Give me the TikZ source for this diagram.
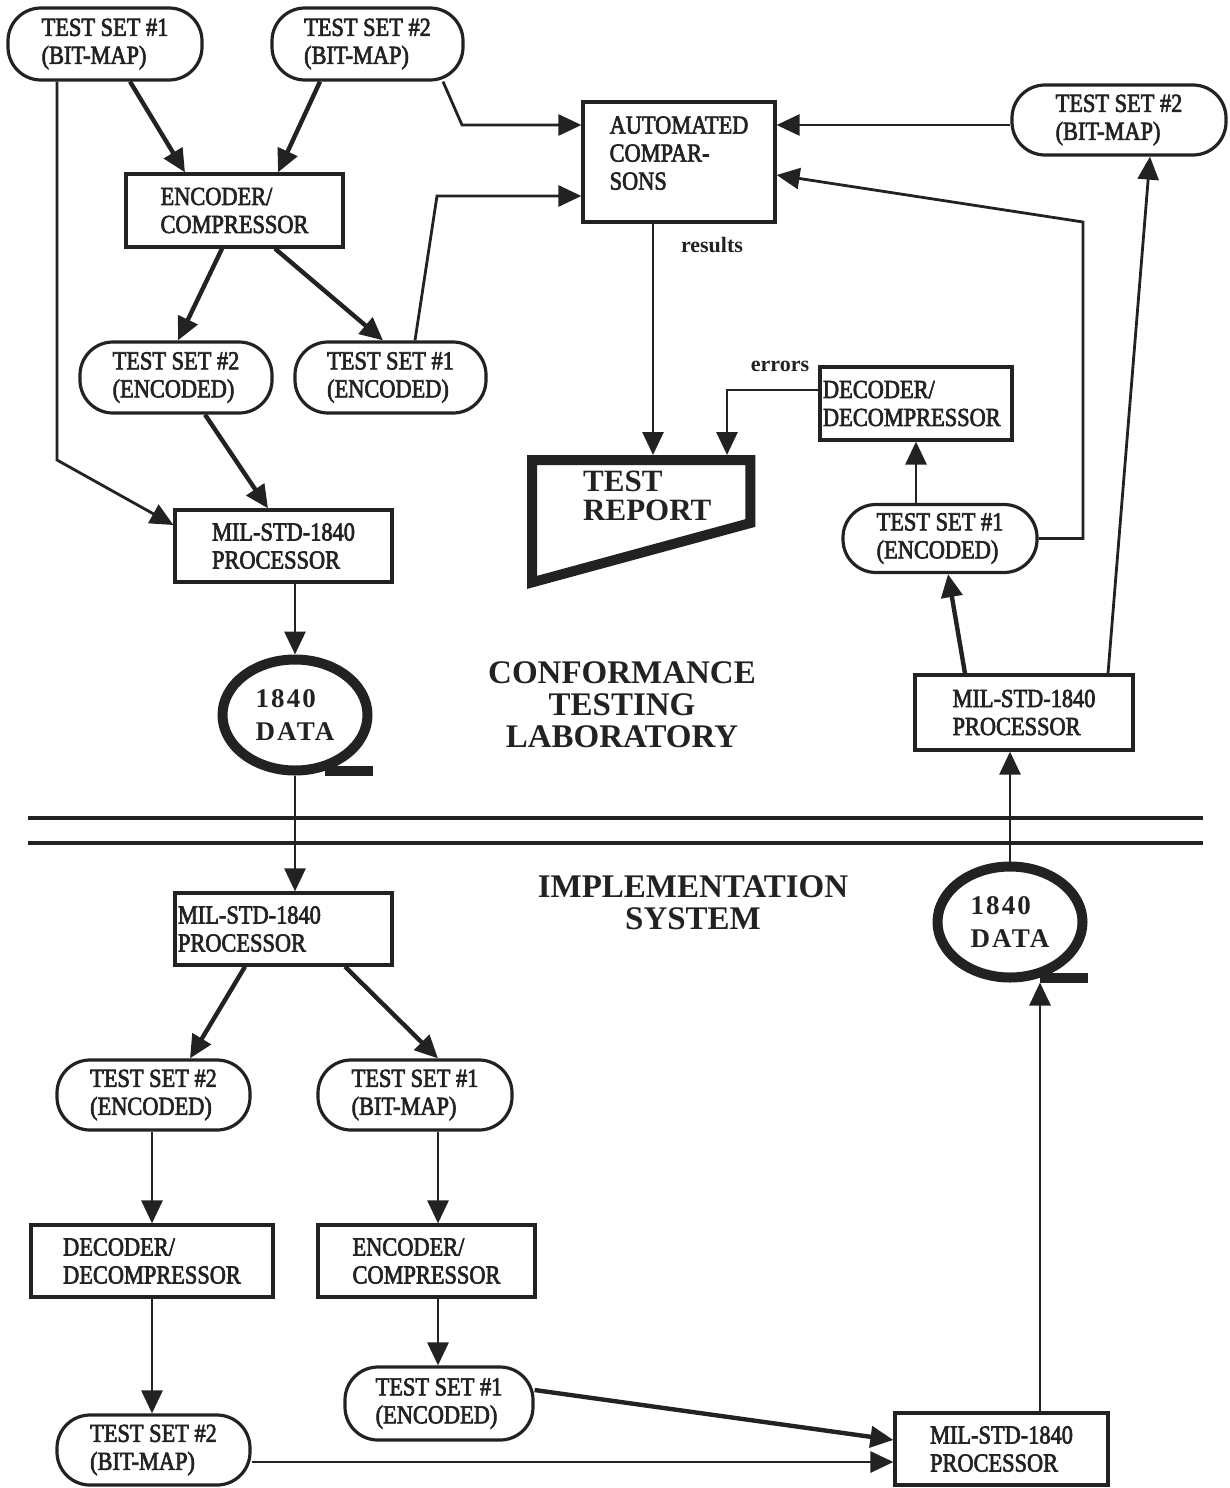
\documentclass[tikz,border=0pt]{standalone}
\usepackage{fontspec}
\setmainfont{Liberation Serif}
\newfontfamily\nodeface[FakeStretch=0.86,FakeBold=2.5]{Liberation Serif}
\newfontfamily\titleface{Liberation Serif}
\newfontfamily\tapeface[LetterSpace=8]{Liberation Serif}
\newcommand\nodefont{\nodeface\fontsize{26}{28}\selectfont}
\newcommand\titlefont{\titleface\bfseries\fontsize{33}{32}\selectfont}
\newcommand\tapefont{\tapeface\bfseries\fontsize{27}{33}\selectfont}
\newcommand\reportfont{\titleface\bfseries\fontsize{31}{29}\selectfont}
\newcommand\labelfont{\titleface\bfseries\fontsize{22}{24}\selectfont}
\usetikzlibrary{arrows.meta,shapes.geometric,calc}
\definecolor{ink}{HTML}{222222}
\begin{document}
\begin{tikzpicture}[x=1pt,y=-1pt,
  box/.style={draw=ink, line width=3.2pt, rectangle, align=left, inner sep=0pt, font=\nodefont, text=ink},
  rbox/.style={box, rounded corners=33pt},
  con/.style={draw=ink, line width=2.8pt, line join=miter, -{Triangle[length=23pt,width=21pt]}},
  heavy/.style={con, line width=4.4pt},
  tape/.style={ellipse, draw=ink, line width=10pt, minimum width=145pt, minimum height=111pt, inner sep=0pt, align=left, font=\tapefont, text=ink},
  tail/.style={draw=ink, line width=10pt},
  divider/.style={draw=ink, line width=3.8pt},
  lbl/.style={font=\labelfont, text=ink, inner sep=0pt},
  title/.style={font=\titlefont, text=ink, align=center, inner sep=0pt}]
\useasboundingbox (0,0) rectangle (1230,1488);

% ---------- conformance testing laboratory ----------
\node[rbox, minimum width=194pt, minimum height=72pt] (tsA) at (105,44) {TEST SET \#1\\(BIT-MAP)};
\node[rbox, minimum width=191pt, minimum height=72pt] (tsB) at (367.5,44) {TEST SET \#2\\(BIT-MAP)};
\node[box, minimum width=217pt, minimum height=73pt] (enc) at (234.5,210.5) {ENCODER/\\COMPRESSOR};
\node[rbox, minimum width=192pt, minimum height=71pt] (tsC) at (176,377.5) {TEST SET \#2\\(ENCODED)};
\node[rbox, minimum width=191pt, minimum height=71pt] (tsD) at (390.5,377.5) {TEST SET \#1\\(ENCODED)};
\node[box, minimum width=217pt, minimum height=72pt] (milA) at (283.5,546) {MIL-STD-1840\\PROCESSOR};
\node[tape] (tapeA) at (295,715) {1840\\DATA};
\node[box, minimum width=192pt, minimum height=120pt] (auto) at (679,162) {AUTOMATED\\COMPAR-\\SONS\\[-10pt]};
\node[rbox, minimum width=214pt, minimum height=70pt] (tsE) at (1119,120) {TEST SET \#2\\(BIT-MAP)};
\node[box, text width=186pt, inner xsep=3pt, minimum height=73pt] (decA) at (916,403.5) {DECODER/\\DECOMPRESSOR};
\node[rbox, minimum width=194pt, minimum height=68pt] (tsF) at (940,538.5) {TEST SET \#1\\(ENCODED)};
\node[box, minimum width=218pt, minimum height=75pt] (milB) at (1024,712.5) {MIL-STD-1840\\PROCESSOR};
\node[tape] (tapeB) at (1010,922) {1840\\DATA};

\node[minimum width=228pt, minimum height=132pt, inner sep=0pt, anchor=north west] (rep) at (527,455) {};
\draw[ink, line width=10pt, line join=miter] ($(rep.north west)+(5,5)$) -- ($(rep.north east)+(-5,5)$) -- ($(rep.north east)+(-5,68)$) -- ($(rep.south west)+(5,-5)$) -- cycle;
\node[anchor=north west, align=left, font=\reportfont, text=ink, inner sep=0pt] (reptxt) at (583,471) {TEST\\REPORT};

\node[lbl] (res) at (712,245) {results};
\node[lbl] (err) at (780,366) {errors};
\node[title] (lab) at (622,705) {CONFORMANCE\\TESTING\\LABORATORY};

% ---------- implementation system ----------
\node[title] (impl) at (693,903) {IMPLEMENTATION\\SYSTEM};
\node[box, text width=211pt, inner xsep=3pt, minimum height=72pt] (milC) at (283.5,929) {MIL-STD-1840\\PROCESSOR};
\node[rbox, minimum width=193pt, minimum height=70pt] (tsG) at (153.5,1095) {TEST SET \#2\\(ENCODED)};
\node[rbox, minimum width=194pt, minimum height=70pt] (tsH) at (415,1095) {TEST SET \#1\\(BIT-MAP)};
\node[box, minimum width=242pt, minimum height=72pt] (decB) at (152,1261) {DECODER/\\DECOMPRESSOR};
\node[box, minimum width=217pt, minimum height=72pt] (encB) at (426.5,1261) {ENCODER/\\COMPRESSOR};
\node[rbox, minimum width=188pt, minimum height=73pt] (tsI) at (439,1403.5) {TEST SET \#1\\(ENCODED)};
\node[rbox, minimum width=193pt, minimum height=70pt] (tsJ) at (153.5,1450) {TEST SET \#2\\(BIT-MAP)};
\node[box, minimum width=213pt, minimum height=72pt] (milD) at (1001.5,1449) {MIL-STD-1840\\PROCESSOR};

% tape tails and divider
\draw[tail] ($(tapeA.center)+(30,55.5)$) -- ($(tapeA.center)+(78,55.5)$);
\draw[tail] ($(tapeB.center)+(30,55.5)$) -- ($(tapeB.center)+(78,55.5)$);
\draw[divider] (28,818) -- (1203,818);
\draw[divider] (28,843) -- (1203,843);

% bend points
\coordinate (b1) at (462,125);
\coordinate (b2) at (437,196);
\coordinate (b3) at (57,460);
\coordinate (b4) at (1083,222);
\coordinate (b5) at (727,390);

% connectors
\draw[heavy] ([xshift=25pt]tsA.south) -- ([xshift=-49.5pt]enc.north);
\draw[heavy] ([xshift=-47.5pt]tsB.south) -- ([xshift=43.5pt]enc.north);
\draw[con] ([xshift=75.5pt]tsB.south) -- (b1) -- (b1 -| auto.west);
\draw[heavy] ([xshift=-12.5pt]enc.south) -- ([xshift=2pt]tsC.north);
\draw[heavy] ([xshift=40.5pt]enc.south) -- ([xshift=-7.5pt]tsD.north);
\draw[con] ([xshift=24.5pt]tsD.north) -- (b2) -- (b2 -| auto.west);
\draw[con] ([xshift=-48pt]tsA.south) -- (b3) -- ([yshift=21pt]milA.west);
\draw[heavy] ([xshift=29pt]tsC.south) -- ([xshift=-15.5pt]milA.north);
\draw[con] (milA.south -| tapeA.north) -- (tapeA.north);
\draw[con] (tapeA.south) -- (tapeA.south |- milC.north);
\draw[con] ([xshift=-26pt]auto.south) -- ([xshift=-26pt]auto.south |- rep.north);
\draw[con] ([yshift=13.5pt]decA.west) -- (b5) -- (b5 |- rep.north);
\draw[con] (decA.south |- tsF.north) -- (decA.south);
\draw[con] (tsF.east) -- (tsF.east -| b4) -- (b4) -- ([yshift=-13pt]auto.east);
\draw[con] ([yshift=-5pt]tsE.west) -- ([yshift=-5pt]tsE.west -| auto.east);
\draw[heavy] ([xshift=-59pt]milB.north) -- ([xshift=8pt]tsF.south);
\draw[con] ([xshift=84pt]milB.north) -- ([xshift=31pt]tsE.south);
\draw[con] (tapeB.north) -- (tapeB.north |- milB.south);
\draw[con] ([xshift=38.5pt]milD.north) -- ([xshift=38.5pt]milD.north |- tapeB.south);
\draw[heavy] ([xshift=-38.5pt]milC.south) -- ([xshift=36.5pt]tsG.north);
\draw[heavy] ([xshift=61.5pt]milC.south) -- ([xshift=23pt]tsH.north);
\draw[con] ([xshift=-1.5pt]tsG.south) -- ([xshift=-1.5pt]tsG.south |- decB.north);
\draw[con] ([xshift=23pt]tsH.south) -- ([xshift=23pt]tsH.south |- encB.north);
\draw[con] (decB.south) -- (decB.south |- tsJ.north);
\draw[con] ([xshift=11.5pt]encB.south) -- ([xshift=11.5pt]encB.south |- tsI.north);
\draw[heavy] ([yshift=13.5pt]tsI.east) -- ([yshift=9pt]milD.west);
\draw[con] ([yshift=-12pt]tsJ.east) -- ([yshift=-12pt]tsJ.east -| milD.west);
\end{tikzpicture}
\end{document}
